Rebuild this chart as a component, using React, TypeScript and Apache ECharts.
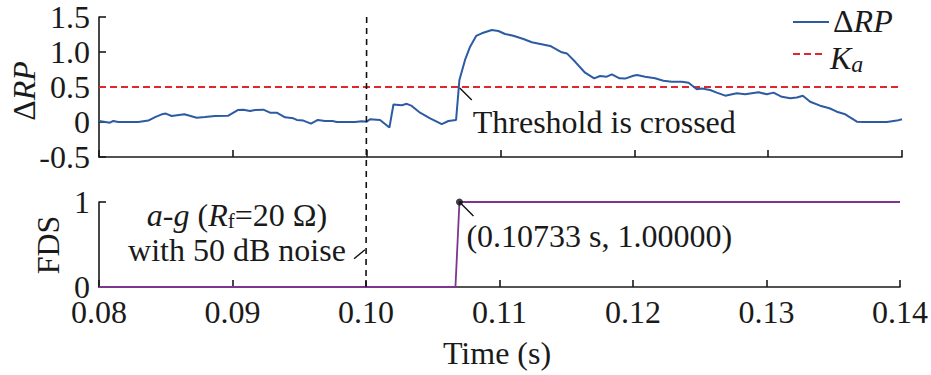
import React, { useEffect, useRef } from "react";
import * as echarts from "echarts";

const FONT = "Liberation Serif";
const INK = "#1a1a1a";
const FS = 32;

// ΔRP curve (time in s, value)
const drpTime = [
  0.08, 0.08082, 0.08107, 0.08144, 0.08294, 0.08368, 0.08419, 0.08469, 0.08499, 0.08543,
  0.08638, 0.0873, 0.08792, 0.08867, 0.08966, 0.09037, 0.09078, 0.09129, 0.09166, 0.09228,
  0.09278, 0.09328, 0.0939, 0.09452, 0.09478, 0.09527, 0.09584, 0.09635, 0.09689, 0.09744,
  0.09777, 0.09913, 0.09963, 0.10001, 0.10025, 0.101, 0.1017, 0.102, 0.10262, 0.103,
  0.10337, 0.10399, 0.10474, 0.10561, 0.10611, 0.10668, 0.10693, 0.10735, 0.10773, 0.10818,
  0.1086, 0.10935, 0.10984, 0.11034, 0.11096, 0.11171, 0.11234, 0.11371, 0.11458, 0.11496,
  0.11558, 0.11632, 0.117, 0.11744, 0.11794, 0.11832, 0.11889, 0.11931, 0.11993, 0.12019,
  0.12081, 0.12155, 0.12217, 0.1228, 0.12355, 0.12405, 0.12467, 0.12504, 0.12566, 0.12616,
  0.12679, 0.12766, 0.12828, 0.12928, 0.1299, 0.1304, 0.13102, 0.13165, 0.13214, 0.13259,
  0.13314, 0.13388, 0.13458, 0.13513, 0.13576, 0.13663, 0.13712, 0.13887, 0.13962, 0.14,
];
const drpValue = [
  0.015, -0.01, 0.015, 0.0, 0.0, 0.02, 0.07, 0.11, 0.12, 0.086,
  0.11, 0.06, 0.07, 0.086, 0.09, 0.17, 0.176, 0.157, 0.17, 0.176,
  0.133, 0.133, 0.067, 0.053, 0.03, 0.02, -0.024, 0.03, 0.014, 0.014,
  0.0, 0.0, 0.01, 0.005, 0.04, 0.03, -0.08, 0.25, 0.24, 0.26,
  0.23, 0.133, 0.053, -0.03, 0.014, 0.03, 0.6, 0.886, 1.076, 1.23,
  1.267, 1.314, 1.3, 1.257, 1.233, 1.186, 1.14, 1.086, 0.996, 0.98,
  0.86, 0.704, 0.624, 0.657, 0.647, 0.68, 0.624, 0.62, 0.66, 0.67,
  0.647, 0.624, 0.59, 0.576, 0.576, 0.56, 0.467, 0.48, 0.457, 0.42,
  0.376, 0.41, 0.396, 0.424, 0.396, 0.42, 0.36, 0.34, 0.35, 0.376,
  0.29, 0.233, 0.196, 0.147, 0.11, 0.005, 0.0, 0.0, 0.02, 0.04,
];

// Threshold K_a
const kaTime = [0.08, 0.14];
const kaValue = [0.5, 0.5];

// FDS step signal
const fdsTime = [0.08, 0.1067, 0.107, 0.14];
const fdsValue = [0, 0, 1, 1];

// Markers / annotations
const fdsMarker = [0.107, 1];
const crossPoint = [0.10688, 0.5];
const faultTime = 0.1;

// Axis ranges / ticks
const xMin = 0.08, xMax = 0.14, xStep = 0.01;
const topYMin = -0.5, topYMax = 1.5, topYStep = 0.5;
const botYMin = 0, botYMax = 1, botYStep = 1;

const axisLine = { show: true, onZero: false, lineStyle: { color: INK, width: 1.6 } };
const axisTick = { show: true, inside: true, length: 7, lineStyle: { color: INK, width: 1.6 } };
const labelStyle = { color: INK, fontFamily: FONT, fontSize: FS, lineHeight: 26 };

export default function App() {
  const ref = useRef<HTMLDivElement>(null);
  useEffect(() => {
    if (!ref.current) return;
    const chart = echarts.init(ref.current, undefined, { renderer: "svg" });
    const option: any = {
      animation: false,
      backgroundColor: "#ffffff",
      textStyle: { fontFamily: FONT },
      grid: [
        { left: 99, top: 17, width: 803, height: 140 },
        { left: 99, top: 202, width: 803, height: 85 },
      ],
      xAxis: [
        {
          type: "value", gridIndex: 0, min: xMin, max: xMax, interval: xStep,
          axisLine, axisTick, axisLabel: { show: false }, splitLine: { show: false },
        },
        {
          type: "value", gridIndex: 1, min: xMin, max: xMax, interval: xStep,
          axisLine, axisTick,
          axisLabel: { ...labelStyle, margin: 12, formatter: (v: number) => v.toFixed(2) },
          splitLine: { show: false },
        },
      ],
      yAxis: [
        {
          type: "value", gridIndex: 0, min: topYMin, max: topYMax, interval: topYStep,
          axisLine, axisTick,
          axisLabel: {
            ...labelStyle, margin: 9,
            formatter: (v: number) => (Math.abs(v) < 1e-9 ? "0" : v.toFixed(1)),
          },
          splitLine: { show: false },
        },
        {
          type: "value", gridIndex: 1, min: botYMin, max: botYMax, interval: botYStep,
          axisLine, axisTick,
          axisLabel: { ...labelStyle, margin: 9, formatter: (v: number) => String(Math.round(v)) },
          splitLine: { show: false },
        },
      ],
      series: [
        {
          name: "ΔRP", type: "line", xAxisIndex: 0, yAxisIndex: 0, showSymbol: false,
          data: drpTime.map((t, i) => [t, drpValue[i]]),
          lineStyle: { color: "#2c5ba3", width: 2 }, itemStyle: { color: "#2c5ba3" },
          z: 3,
        },
        {
          name: "Ka", type: "line", xAxisIndex: 0, yAxisIndex: 0, showSymbol: false,
          data: kaTime.map((t, i) => [t, kaValue[i]]),
          lineStyle: { color: "#e0262e", width: 1.8, type: [7, 4] }, itemStyle: { color: "#e0262e" },
          z: 2,
        },
        {
          name: "FDS", type: "line", xAxisIndex: 1, yAxisIndex: 1, showSymbol: false,
          data: fdsTime.map((t, i) => [t, fdsValue[i]]),
          lineStyle: { color: "#7d3590", width: 1.8 }, itemStyle: { color: "#7d3590" },
          z: 3,
        },
        {
          name: "marker", type: "scatter", xAxisIndex: 1, yAxisIndex: 1,
          data: [fdsMarker], symbolSize: 7, itemStyle: { color: "#111" }, z: 4,
        },
      ],
    };
    chart.setOption(option);

    const pTop = chart.convertToPixel({ gridIndex: 0 }, [faultTime, topYMax]) as number[];
    const pBot = chart.convertToPixel({ gridIndex: 1 }, [faultTime, botYMin]) as number[];
    const pCross = chart.convertToPixel({ gridIndex: 0 }, crossPoint) as number[];
    const pMark = chart.convertToPixel({ gridIndex: 1 }, fdsMarker) as number[];
    const pFaultMid = chart.convertToPixel({ gridIndex: 1 }, [faultTime, 0.45]) as number[];

    const txt = (x: number, y: number, text: string, extra: any = {}) => ({
      type: "text", x, y, z: 10,
      style: {
        text, fill: INK, fontFamily: FONT, fontSize: FS, lineHeight: 30,
        align: "left", verticalAlign: "middle", ...extra,
      },
    });
    const richDRP = {
      n: { fontFamily: FONT, fontSize: FS, fill: INK },
      i: { fontFamily: FONT, fontSize: FS, fontStyle: "italic", fill: INK },
    };

    chart.setOption({
      graphic: [
        {
          type: "line", z: 5,
          shape: { x1: pTop[0], y1: pTop[1], x2: pBot[0], y2: pBot[1] },
          style: { stroke: "#111", lineWidth: 1.6, lineDash: [6, 5] },
        },
        // threshold annotation
        {
          type: "line", z: 6,
          shape: { x1: pCross[0] + 1, y1: pCross[1] + 1, x2: pCross[0] + 13, y2: pCross[1] + 13 },
          style: { stroke: "#111", lineWidth: 1.4 },
        },
        txt(pCross[0] + 14, 122, "Threshold is crossed"),
        // FDS marker annotation
        {
          type: "line", z: 6,
          shape: { x1: pMark[0], y1: pMark[1], x2: pMark[0] + 14, y2: pMark[1] + 14 },
          style: { stroke: "#111", lineWidth: 1.4 },
        },
        txt(pMark[0] + 7, 236, "(0.10733 s, 1.00000)"),
        // case annotation
        {
          type: "text", x: 237, y: 215, z: 10,
          style: {
            text: "{i|a}{n|-}{i|g}{n| (}{i|R}{s|f}{n|=20 Ω)}",
            align: "center", verticalAlign: "middle", fill: INK,
            rich: {
              n: { fontFamily: FONT, fontSize: FS, lineHeight: 32, fill: INK, verticalAlign: "middle" },
              i: { fontFamily: FONT, fontSize: FS, fontStyle: "italic", lineHeight: 32, fill: INK, verticalAlign: "middle" },
              s: { fontFamily: FONT, fontSize: 21, lineHeight: 14, fill: INK, verticalAlign: "bottom" },
            },
          },
        },
        txt(237, 250, "with 50 dB noise", { align: "center" }),
        {
          type: "line", z: 6,
          shape: { x1: pFaultMid[0] - 12, y1: pFaultMid[1] + 10, x2: pFaultMid[0] - 1, y2: pFaultMid[1] + 1 },
          style: { stroke: "#111", lineWidth: 1.4 },
        },
        // axis names
        {
          type: "text", x: 24, y: 91, rotation: Math.PI / 2, z: 10,
          style: { text: "{n|Δ}{i|RP}", align: "center", verticalAlign: "middle", fill: INK, rich: richDRP },
        },
        {
          type: "text", x: 48, y: 245, rotation: Math.PI / 2, z: 10,
          style: { text: "FDS", align: "center", verticalAlign: "middle", fill: INK, fontFamily: FONT, fontSize: FS },
        },
        txt(497, 353, "Time (s)", { align: "center" }),
        // legend
        {
          type: "line", z: 6,
          shape: { x1: 793, y1: 22, x2: 829, y2: 22 },
          style: { stroke: "#2c5ba3", lineWidth: 2 },
        },
        {
          type: "text", x: 833, y: 21, z: 10,
          style: { text: "{n|Δ}{i|RP}", align: "left", verticalAlign: "middle", fill: INK, rich: richDRP },
        },
        {
          type: "line", z: 6,
          shape: { x1: 793, y1: 54, x2: 825, y2: 54 },
          style: { stroke: "#e0262e", lineWidth: 1.8, lineDash: [7, 4] },
        },
        {
          type: "text", x: 830, y: 59, z: 10,
          style: {
            text: "{k|K}{a|a}", align: "left", verticalAlign: "middle", fill: INK,
            rich: {
              k: { fontFamily: FONT, fontSize: FS, fontStyle: "italic", lineHeight: 34, fill: INK, verticalAlign: "top" },
              a: { fontFamily: FONT, fontSize: 24, fontStyle: "italic", lineHeight: 6, fill: INK, verticalAlign: "bottom" },
            },
          },
        },
      ],
    });

    return () => chart.dispose();
  }, []);
  return (
    <div
      ref={ref}
      style={{ position: "fixed", left: 0, top: 0, width: 931, height: 375, background: "#fff" }}
    />
  );
}
